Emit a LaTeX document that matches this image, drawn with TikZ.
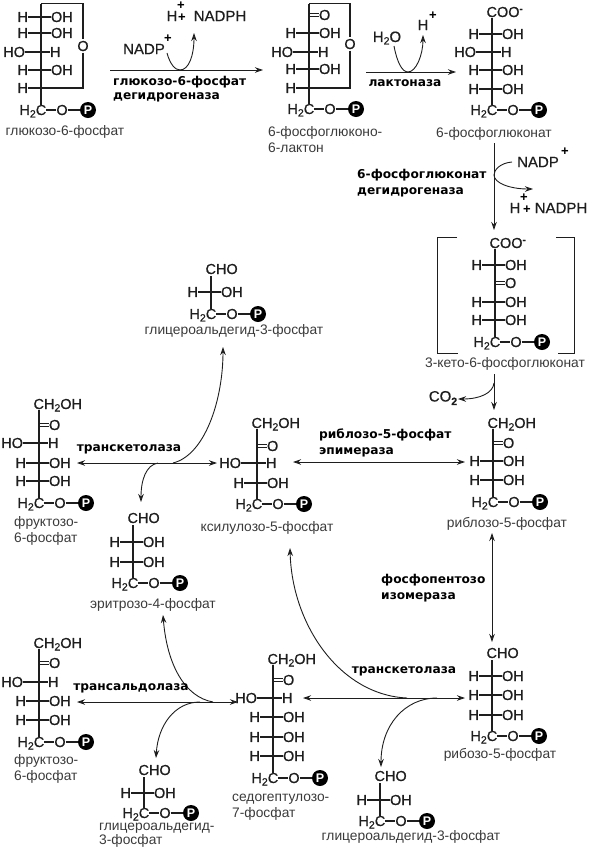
\documentclass[tikz,border=0pt]{standalone}
\usepackage{fontspec}
\setmainfont{Liberation Sans}
\newfontfamily\enzfont{DejaVu Sans}
\newfontfamily\atomfont[FakeBold=0.6]{Liberation Sans}
\usetikzlibrary{arrows.meta}
\definecolor{ink}{HTML}{1E1E1E}
\definecolor{lab}{HTML}{3A3A3A}
\tikzset{
  atom/.style={inner sep=0pt,outer sep=0pt,text=ink,font=\atomfont\fontsize{14.5}{14}\selectfont},
  bond/.style={draw=ink,line width=1.3pt},
  dbl/.style={draw=ink,line width=1pt},
  pcirc/.style={circle,fill=black,minimum size=16pt,inner sep=0pt,text=white,font=\fontsize{12.5}{12}\selectfont\bfseries},
  name label/.style={inner sep=0pt,text=lab,font=\fontsize{13.8}{16}\selectfont},
  enzyme/.style={inner sep=0pt,text=black,font=\enzfont\fontsize{12.2}{12}\selectfont\bfseries},
  chem/.style={inner sep=0pt,text=ink,font=\atomfont\fontsize{15}{15}\selectfont},
  plus/.style={inner sep=0pt,text=black,font=\fontsize{13}{13}\selectfont\bfseries},
  rxn/.style={draw=ink,line width=0.9pt},
  to/.style={rxn,-{Stealth[length=8pt,width=5.5pt]}},
  both/.style={rxn,{Stealth[length=8pt,width=5.5pt]}-{Stealth[length=8pt,width=5.5pt]}}
}
\newcommand{\setmol}[2]{\def\mn{#1}\def\mx{#2}}
\newcommand{\hoh}[1]{%
  \node[atom,anchor=east] (\mn L#1) at (\mx-13,#1) {H};
  \node[atom,anchor=west] (\mn R#1) at (\mx+10,#1) {OH};
  \draw[bond] (\mn L#1.east) -- (\mn R#1.west);}
\newcommand{\hoH}[1]{%
  \node[atom,anchor=east] (\mn L#1) at (\mx-16,#1) {HO};
  \node[atom,anchor=west] (\mn R#1) at (\mx+9,#1) {H};
  \draw[bond] (\mn L#1.east) -- (\mn R#1.west);}
\newcommand{\onlyH}[1]{%
  \node[atom,anchor=east] (\mn L#1) at (\mx-13,#1) {H};
  \coordinate (\mn R#1) at (\mx,#1);
  \draw[bond] (\mn L#1.east) -- (\mn R#1);}
\newcommand{\keto}[1]{%
  \node[atom,anchor=west] (\mn O#1) at (\mx+10,#1) {O};
  \draw[dbl] (\mx,#1-1.8) -- (\mn O#1.west |- {0,#1-1.8});
  \draw[dbl] (\mx,#1+1.8) -- (\mn O#1.west |- {0,#1+1.8});}
\newcommand{\phos}[2]{% y, top of the spine
  \node[atom] (\mn C) at (\mx,#1) {C};
  \node[atom,anchor=base east] (\mn H) at (\mn C.base west) {H\raisebox{-2.5pt}{\fontsize{10.5}{10}\selectfont 2}};
  \node[atom] (\mn O) at (\mx+21,#1) {O};
  \node[pcirc] (\mn P) at (\mx+47,#1) {P};
  \draw[bond] (\mn C.east) -- (\mn O.west);
  \draw[bond] (\mn O.east) -- (\mn P.west);
  \coordinate (\mn S) at (\mx,#2);
  \draw[bond] (\mn S) -- (\mn C.north);}
\newcommand{\topgroup}[2]{% y, text
  \node[atom,anchor=base west] (\mn T) at (\mx-5.5,#1+5) {#2};}
\newcommand{\sub}[1]{\raisebox{-2.5pt}{\fontsize{10.5}{10}\selectfont #1}}
\begin{document}
\begin{tikzpicture}[x=1pt,y=-1pt]
\useasboundingbox (0,0) rectangle (591,847);
\clip (0,0) rectangle (591,847);

% glucose-6-phosphate
\setmol{m1}{41}
\hoh{17}\hoh{33}\hoH{52}\hoh{70}\onlyH{88}\phos{110}{3.5}
\node[atom,inner sep=1.5pt] (m1X) at (83,46) {O};
\draw[bond] (m1S) -| (m1X.north);
\draw[bond] (m1X.south) |- (m1R88);
\node[name label] (l1) at (65,132) {глюкозо-6-фосфат};

% 6-phosphoglucono-lactone
\setmol{m2}{309}
\keto{15}\hoh{33}\hoH{52}\hoh{69}\onlyH{88}\phos{109}{3.5}
\node[atom,inner sep=1.5pt] (m2X) at (350,44) {O};
\draw[bond] (m2S) -| (m2X.north);
\draw[bond] (m2X.south) |- (m2R88);
\node[name label,anchor=west,align=left] (l2) at (268,139.5) {6-фосфоглюконо-\\6-лактон};

% 6-phosphogluconate
\setmol{m3}{492}
\topgroup{12}{COO\raisebox{5pt}{\fontsize{10}{10}\selectfont\bfseries -}}
\hoh{34}\hoH{52}\hoh{70}\hoh{89}\phos{110}{18}
\node[name label] (l3) at (494,134) {6-фосфоглюконат};

% 3-keto-6-phosphogluconate
\setmol{m4}{495}
\topgroup{243}{COO\raisebox{5pt}{\fontsize{10}{10}\selectfont\bfseries -}}
\hoh{265}\keto{283}\hoh{302}\hoh{320}\phos{342}{249}
\node[name label] (l4) at (505,364) {3-кето-6-фосфоглюконат};
\coordinate (b1) at (457,237); \coordinate (b2) at (437,353); \coordinate (b3) at (458,353);
\draw[rxn] (b1) -- (b2 |- b1) -- (b2) -- (b3);
\coordinate (b4) at (556,237); \coordinate (b5) at (574,353); \coordinate (b6) at (558,353);
\draw[rxn] (b4) -- (b5 |- b4) -- (b5) -- (b6);

% ribulose-5-phosphate
\setmol{m5}{493}
\topgroup{423}{CH\sub{2}OH}
\keto{443}\hoh{461}\hoh{480}\phos{502}{429}
\node[name label] (l5) at (507,524) {риблозо-5-фосфат};

% ribose-5-phosphate
\setmol{m6}{492}
\topgroup{653}{CHO}
\hoh{676}\hoh{695}\hoh{715}\phos{736}{660}
\node[name label] (l6) at (500,755) {рибозо-5-фосфат};

% glyceraldehyde-3-phosphate, bottom right
\setmol{m7}{380}
\topgroup{776}{CHO}
\hoh{800}\phos{821}{783}
\node[name label] (l7) at (411,837) {глицероальдегид-3-фосфат};

% sedoheptulose-7-phosphate
\setmol{m8}{273}
\topgroup{659}{CH\sub{2}OH}
\keto{680}\hoH{698}\hoh{717}\hoh{737}\hoh{756}\phos{778}{665}
\node[name label,anchor=west,align=left] (l8) at (232,807) {седогептулозо-\\7-фосфат};

% fructose-6-phosphate, bottom
\setmol{m9}{39}
\topgroup{643}{CH\sub{2}OH}
\keto{663}\hoH{682}\hoh{701}\hoh{720}\phos{742}{649}
\node[name label,anchor=west,align=left] (l9) at (14,769) {фруктозо-\\6-фосфат};

% glyceraldehyde-3-phosphate, bottom left
\setmol{m10}{144}
\topgroup{770}{CHO}
\hoh{793}\phos{813}{777}
\node[name label,anchor=west,align=left] (l10) at (99,835) {глицероальдегид-\\[-2.5pt]3-фосфат};

% fructose-6-phosphate, top
\setmol{m11}{39}
\topgroup{404}{CH\sub{2}OH}
\keto{425}\hoH{443}\hoh{463}\hoh{481}\phos{503}{410}
\node[name label,anchor=west,align=left] (l11) at (14,530.5) {фруктозо-\\6-фосфат};

% glyceraldehyde-3-phosphate, top
\setmol{m12}{211}
\topgroup{269}{CHO}
\hoh{292}\phos{314}{276}
\node[name label] (l12) at (234,331) {глицероальдегид-3-фосфат};

% erythrose-4-phosphate
\setmol{m13}{133}
\topgroup{518}{CHO}
\hoh{542}\hoh{562}\phos{583}{525}
\node[name label] (l13) at (153,605) {эритрозо-4-фосфат};

% xylulose-5-phosphate
\setmol{m14}{257}
\topgroup{423}{CH\sub{2}OH}
\keto{446}\hoH{463}\hoh{483}\phos{504}{429}
\node[name label] (l14) at (267,528) {ксилулозо-5-фосфат};

% ---- first reaction
\coordinate (r1a) at (110,70); \coordinate (r1b) at (263,70);
\draw[to] (r1a) -- (r1b);
\coordinate (r1c) at (167,53); \coordinate (r1d) at (180,70); \coordinate (r1e) at (194,33);
\draw[rxn] (r1c) .. controls (170,64) and (175,70) .. (r1d);
\draw[to] (r1d) .. controls (189,70) and (194,55) .. (r1e);
\node[chem] (c1) at (144,49) {NADP};
\node[plus] (c1p) at (168,39) {+};
\node[chem] (c2) at (172,16) {H};
\node[plus] (c2p) at (181,6) {+};
\node[plus] (c2q) at (182,18) {+};
\node[chem] (c3) at (220,16) {NADPH};
\node[enzyme,anchor=west] (e1) at (113,82) {глюкозо-6-фосфат};
\node[enzyme,anchor=west] (e2) at (113,97) {дегидрогеназа};

% ---- second reaction
\coordinate (r2a) at (366,72); \coordinate (r2b) at (456,72);
\draw[to] (r2a) -- (r2b);
\coordinate (r2c) at (394,46); \coordinate (r2d) at (408,72); \coordinate (r2e) at (423,35);
\draw[rxn] (r2c) .. controls (397,62) and (402,72) .. (r2d);
\draw[to] (r2d) .. controls (416,72) and (423,55) .. (r2e);
\node[chem] (c4) at (387,38) {H\sub{2}O};
\node[chem] (c5) at (423,25) {H};
\node[plus] (c5p) at (433,16) {+};
\node[enzyme] (e3) at (405,83) {лактоназа};

% ---- third reaction
\coordinate (r3a) at (494,143); \coordinate (r3b) at (494,230);
\draw[to] (r3a) -- (r3b);
\coordinate (r3c) at (512,162); \coordinate (r3d) at (494,175); \coordinate (r3e) at (533,189);
\draw[rxn] (r3c) .. controls (500,163) and (494,170) .. (r3d);
\draw[to] (r3d) .. controls (494,183) and (510,189) .. (r3e);
\node[chem] (c6) at (538,162) {NADP};
\node[plus] (c6p) at (565,152) {+};
\node[chem] (c7) at (515,208) {H};
\node[plus] (c7p) at (524,198) {+};
\node[plus] (c7q) at (527,210) {+};
\node[chem] (c8) at (561,208) {NADPH};
\node[enzyme,anchor=west] (e4) at (357,175) {6-фосфоглюконат};
\node[enzyme,anchor=west] (e5) at (357,192) {дегидрогеназа};

% ---- decarboxylation
\coordinate (r4a) at (494,374); \coordinate (r4b) at (494,410);
\draw[to] (r4a) -- (r4b);
\coordinate (r4c) at (494,383); \coordinate (r4d) at (458,399);
\draw[to] (r4c) .. controls (493,393) and (480,399) .. (r4d);
\node[chem] (c9) at (443,398) {CO\raisebox{-3.5pt}{\fontsize{10.5}{10}\selectfont\bfseries 2}};

% ---- epimerase
\coordinate (r5a) at (293,462); \coordinate (r5b) at (465,462);
\draw[both] (r5a) -- (r5b);
\node[enzyme,anchor=west] (e6) at (319,435) {риблозо-5-фосфат};
\node[enzyme,anchor=west] (e7) at (319,452) {эпимераза};

% ---- isomerase
\coordinate (r6a) at (492,533); \coordinate (r6b) at (492,642);
\draw[both] (r6a) -- (r6b);
\node[enzyme,anchor=west] (e8) at (381,580) {фосфопентозо};
\node[enzyme,anchor=west] (e9) at (381,597) {изомераза};

% ---- transketolase, bottom
\coordinate (r7a) at (303,698); \coordinate (r7b) at (465,698);
\draw[both] (r7a) -- (r7b);
\coordinate (r7c) at (437,698); \coordinate (r7d) at (381,767);
\draw[to] (r7c) .. controls (405,698) and (381,725) .. (r7d);
\coordinate (r7e) at (407,698); \coordinate (r7f) at (290,548);
\draw[to] (r7e) .. controls (340,695) and (292,625) .. (r7f);
\node[enzyme] (e10) at (404,671) {транскетолаза};

% ---- transaldolase
\coordinate (r8a) at (77,702); \coordinate (r8b) at (238,702);
\draw[both] (r8a) -- (r8b);
\coordinate (r8c) at (213,702); \coordinate (r8d) at (163,615);
\draw[to] (r8c) .. controls (185,697) and (167,665) .. (r8d);
\coordinate (r8e) at (200,702); \coordinate (r8f) at (156,758);
\draw[to] (r8e) .. controls (175,702) and (158,725) .. (r8f);
\node[enzyme] (e11) at (131,688) {трансальдолаза};

% ---- transketolase, top
\coordinate (r9a) at (77,463); \coordinate (r9b) at (217,463);
\draw[both] (r9a) -- (r9b);
\coordinate (r9c) at (173,463); \coordinate (r9d) at (223,347);
\draw[to] (r9c) .. controls (205,455) and (223,400) .. (r9d);
\coordinate (r9e) at (158,463); \coordinate (r9f) at (141,502);
\draw[to] (r9e) .. controls (146,465) and (141,480) .. (r9f);
\node[enzyme] (e12) at (129,449) {транскетолаза};
\end{tikzpicture}
\end{document}
